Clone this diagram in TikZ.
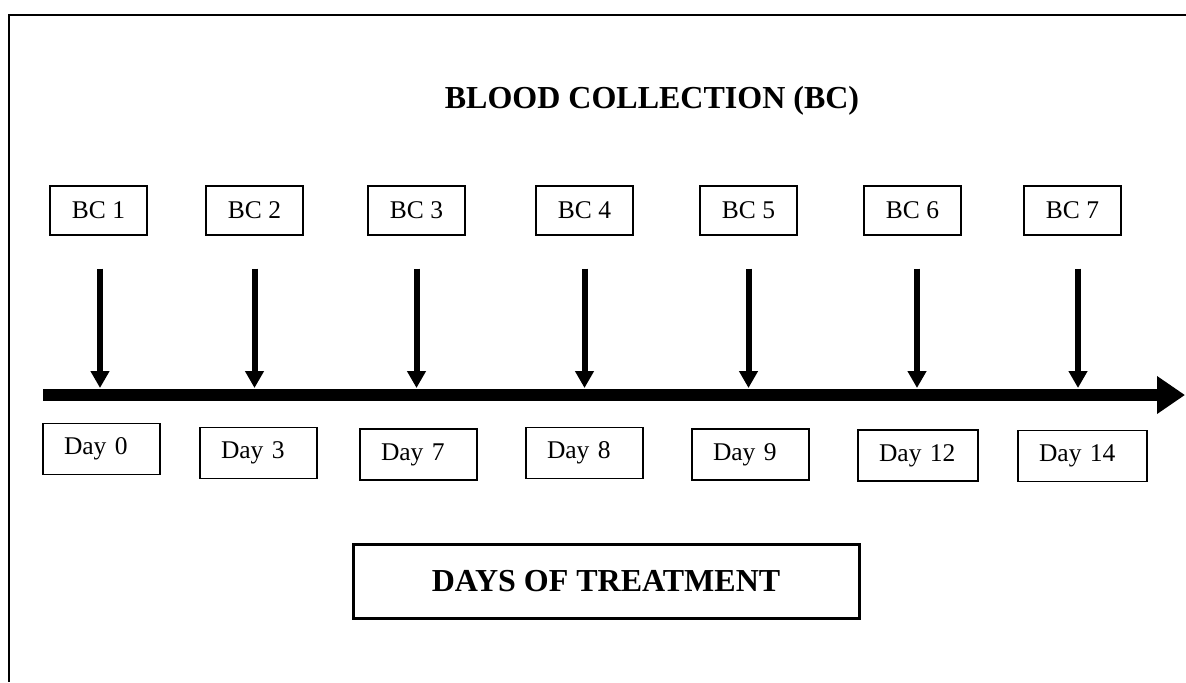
\documentclass[tikz,border=0pt]{standalone}
\usepackage{fontspec}
\setmainfont{Liberation Serif}
\usetikzlibrary{arrows.meta, positioning}
\tikzset{
x=0.5pt, y=-0.5pt, % one unit is one pixel of the layout, y runs downwards
bcbox/.style={draw, line width=0.7pt, minimum width=48.5pt, minimum height=24.5pt, inner sep=0pt, font=\fontsize{12.75}{15}\selectfont}, % the sampling boxes
daybox/.style={draw, line width=0.7pt, minimum height=25.5pt, inner xsep=10.5pt, inner ysep=0pt, align=left, text width=37.5pt, font=\fontsize{12.75}{15}\selectfont}, % the day labels, text sits a bit left
sample/.style={line width=3pt, -{Triangle[length=8.5pt,width=9pt]}, shorten <=16.5pt, shorten >=3.5pt}, % arrow from a box down to the time line
timeline/.style={line width=6pt, -{Triangle[length=14pt,width=18pt]}}, % the thick time axis
heading/.style={font=\fontsize{16}{19}\selectfont\bfseries},
}
\begin{document}
\begin{tikzpicture}
        \useasboundingbox (0,0) rectangle (1186,682);
        \draw[line width=1pt] (1186,15) -- (9,15) -- (9,682);

        \node[heading, anchor=base] (title) at (652,108) {BLOOD COLLECTION (BC)};

        \node[bcbox] (bc1) at (98.5,210.5)  {BC 1};
        \node[bcbox] (bc2) at (254.5,210.5) {BC 2};
        \node[bcbox] (bc3) at (416.5,210.5) {BC 3};
        \node[bcbox] (bc4) at (584.5,210.5) {BC 4};
        \node[bcbox] (bc5) at (748.5,210.5) {BC 5};
        \node[bcbox] (bc6) at (912.5,210.5) {BC 6};
        \node[bcbox] (bc7) at (1072.5,210.5) {BC 7};

        \coordinate (t0) at (43,395);
        \coordinate (t1) at (1185,395);
        \draw[timeline] (t0) -- (t1);

        \draw[sample] ([xshift=0.75pt]bc1.south) -- ([xshift=0.75pt]bc1.south |- t0);
        \draw[sample] (bc2.south) -- (bc2.south |- t0);
        \draw[sample] (bc3.south) -- (bc3.south |- t0);
        \draw[sample] (bc4.south) -- (bc4.south |- t0);
        \draw[sample] (bc5.south) -- (bc5.south |- t0);
        \draw[sample] ([xshift=2.25pt]bc6.south) -- ([xshift=2.25pt]bc6.south |- t0);
        \draw[sample] ([xshift=2.75pt]bc7.south) -- ([xshift=2.75pt]bc7.south |- t0);

        \node[daybox] (d0) at (101.5,449) {Day 0};
        \node[daybox] (d3) at (258.5,453) {Day 3};
        \node[daybox] (d7) at (418.5,454.5) {Day 7};
        \node[daybox] (d8) at (584.5,453) {Day 8};
        \node[daybox] (d9) at (750.5,454.5) {Day 9};
        \node[daybox, text width=39pt] (d12) at (918,455.5) {Day 12};
        \node[daybox, text width=43.5pt] (d14) at (1082.5,456) {Day 14};

        \node[heading, draw, line width=1.5pt, minimum width=253pt, minimum height=37pt] (treat) at (606,581) {DAYS OF TREATMENT};
    \end{tikzpicture}
\end{document}
